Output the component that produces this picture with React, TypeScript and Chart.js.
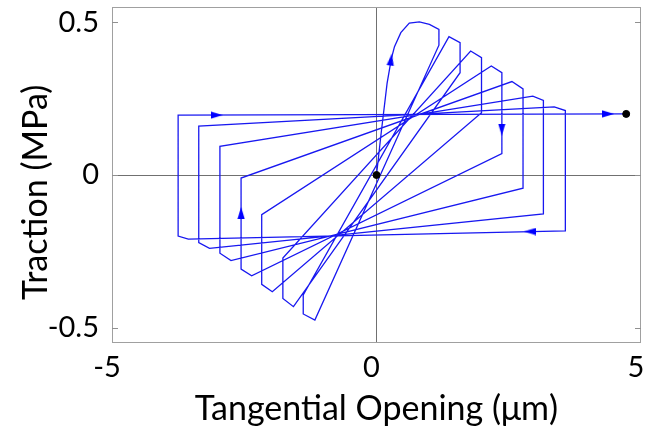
import React, { useEffect, useRef } from "react";
import { Chart, registerables } from "chart.js";
Chart.register(...registerables);

// Axis ticks
const xTicks = [-5, 0, 5];
const xTickLabels = ["-5", "0", "5"];
const yTicks = [-0.5, 0, 0.5];
const yTickLabels = ["-0.5", "0", "0.5"];

// Initial loading curve from origin to first peak
const initialX = [0, 0.09, 0.2, 0.28, 0.34, 0.46, 0.62, 0.81, 1.0, 1.18];
const initialY = [0, 0.14, 0.3, 0.38, 0.42, 0.466, 0.497, 0.501, 0.493, 0.477];

// Right-hand flags of each cycle
const rightCornerX = [1.37, 1.78, 2.17, 2.56, 2.955, 3.36];
const rightCornerY = [0.453, 0.406, 0.357, 0.306, 0.258, 0.223];
const rightEdgeX = [1.18, 1.58, 1.985, 2.37, 2.77, 3.155, 3.57];
const rightEdgeTopY = [0.477, 0.433, 0.384, 0.335, 0.282, 0.244, 0.211];
const rightEdgeBottomY = [0.425, 0.335, 0.204, 0.07, -0.043, -0.127, -0.183];

// Left-hand flags of each cycle
const leftCornerX = [-1.165, -1.57, -1.97, -2.36, -2.75, -3.157, -3.557];
const leftCornerY = [-0.475, -0.431, -0.382, -0.33, -0.28, -0.24, -0.21];
const leftEdgeX = [-1.385, -1.77, -2.17, -2.56, -2.96, -3.36, -3.75];
const leftEdgeBottomY = [-0.455, -0.404, -0.358, -0.308, -0.256, -0.221, -0.2];
const leftEdgeTopY = [-0.393, -0.272, -0.13, -0.01, 0.094, 0.16, 0.196];

// Final point
const endX = [4.72];
const endY = [0.2];

// Direction arrows
const arrowX = [0.275, 2.37, -2.56, -3.02, 4.38, 2.9];
const arrowY = [0.378, 0.148, -0.124, 0.196, 0.2, -0.185];
const arrowAngle = [8, 180, 0, 90, 90, 270];

// Black markers (start / end)
const markerX = [0, 4.72];
const markerY = [0, 0.2];

function buildPath() {
  const pts: { x: number; y: number }[] = [];
  initialX.forEach((x, i) => pts.push({ x, y: initialY[i] }));
  for (let i = 0; i < rightEdgeX.length; i++) {
    pts.push({ x: rightEdgeX[i], y: rightEdgeBottomY[i] });
    pts.push({ x: leftCornerX[i], y: leftCornerY[i] });
    pts.push({ x: leftEdgeX[i], y: leftEdgeBottomY[i] });
    pts.push({ x: leftEdgeX[i], y: leftEdgeTopY[i] });
    if (i < rightCornerX.length) {
      pts.push({ x: rightCornerX[i], y: rightCornerY[i] });
      pts.push({ x: rightEdgeX[i + 1], y: rightEdgeTopY[i + 1] });
    }
  }
  endX.forEach((x, i) => pts.push({ x, y: endY[i] }));
  return pts;
}

function makeArrow() {
  const c = document.createElement("canvas");
  c.width = 8;
  c.height = 12;
  const g = c.getContext("2d")!;
  g.fillStyle = "#0000ff";
  g.beginPath();
  g.moveTo(4, 0);
  g.lineTo(7.6, 12);
  g.lineTo(0.4, 12);
  g.closePath();
  g.fill();
  return c;
}

const FONT = "Lato, 'Liberation Sans', sans-serif";

export default function App() {
  const ref = useRef<HTMLCanvasElement>(null);
  useEffect(() => {
    const arrowImg = makeArrow();
    const framePlugin = {
      id: "frame",
      beforeDatasetsDraw(chart: any) {
        const { ctx, chartArea: a, scales } = chart;
        ctx.save();
        ctx.strokeStyle = "#a0a0a0";
        ctx.lineWidth = 1;
        ctx.strokeRect(a.left + 0.5, a.top + 0.5, a.right - a.left - 1, a.bottom - a.top - 1);
        ctx.strokeStyle = "#909090";
        yTicks.forEach((v) => {
          const y = Math.round(scales.y.getPixelForValue(v)) + 0.5;
          ctx.beginPath();
          ctx.moveTo(a.left, y);
          ctx.lineTo(a.left + 6, y);
          ctx.moveTo(a.right - 6, y);
          ctx.lineTo(a.right, y);
          ctx.stroke();
        });
        ctx.restore();
      },
    };
    const chart = new Chart(ref.current!, {
      type: "scatter",
      data: {
        datasets: [
          {
            label: "markers",
            data: markerX.map((x, i) => ({ x, y: markerY[i] })),
            pointRadius: 3.5,
            pointBackgroundColor: "#000",
            pointBorderColor: "#000",
            showLine: false,
            order: 0,
          },
          {
            label: "arrows",
            data: arrowX.map((x, i) => ({ x, y: arrowY[i] })),
            pointStyle: arrowImg as any,
            rotation: arrowAngle as any,
            showLine: false,
            order: 1,
          },
          {
            label: "path",
            data: buildPath(),
            showLine: true,
            borderColor: "#1818f0",
            borderWidth: 1.3,
            pointRadius: 0,
            tension: 0,
            fill: false,
            order: 2,
          },
        ],
      },
      options: {
        animation: false,
        responsive: false,
        maintainAspectRatio: false,
        layout: { padding: { top: 7, right: 1, left: 0, bottom: 0 } },
        plugins: { legend: { display: false }, tooltip: { enabled: false } },
        scales: {
          x: {
            type: "linear",
            min: -5,
            max: 5,
            afterBuildTicks: (s: any) => {
              s.ticks = xTicks.map((v) => ({ value: v }));
            },
            afterFit: (s: any) => {
              s.height = 86;
              s.paddingLeft = 0;
              s.paddingRight = 0;
              s.paddingTop = 0;
              s.paddingBottom = 0;
            },
            border: { display: false },
            grid: {
              drawTicks: false,
              color: (c: any) => (c.tick && c.tick.value === 0 ? "#707070" : "rgba(0,0,0,0)"),
              lineWidth: 1,
            },
            ticks: {
              padding: 7,
              labelOffset: -5,
              color: "#000",
              font: { family: FONT, size: 29 },
              maxRotation: 0,
              callback: (v: any) => xTickLabels[xTicks.indexOf(Number(v))] ?? "",
            },
            title: {
              display: true,
              text: "Tangential Opening (μm)",
              color: "#000",
              font: { family: FONT, size: 34, lineHeight: 1.2 },
              padding: { top: 0, bottom: 0 },
            },
          },
          y: {
            type: "linear",
            min: -0.55,
            max: 0.55,
            afterBuildTicks: (s: any) => {
              s.ticks = yTicks.map((v) => ({ value: v }));
            },
            afterFit: (s: any) => {
              s.width = 112;
              s.paddingLeft = 0;
              s.paddingRight = 0;
              s.paddingTop = 0;
              s.paddingBottom = 0;
            },
            border: { display: false },
            grid: {
              drawTicks: false,
              color: (c: any) => (c.tick && c.tick.value === 0 ? "#707070" : "rgba(0,0,0,0)"),
              lineWidth: 1,
            },
            ticks: {
              padding: 13,
              color: "#000",
              font: { family: FONT, size: 29 },
              callback: (v: any) => yTickLabels[yTicks.indexOf(Number(v))] ?? "",
            },
            title: {
              display: true,
              text: "Traction (MPa)    ",
              color: "#000",
              font: { family: FONT, size: 34, lineHeight: 1.2 },
              padding: { top: 16, bottom: 0 },
            },
          },
        },
      },
      plugins: [framePlugin],
    });
    return () => chart.destroy();
  }, []);
  return (
    <div style={{ position: "fixed", left: 0, top: 0, width: 646, height: 429, background: "#fff" }}>
      <canvas ref={ref} width={646} height={429} style={{ width: 646, height: 429, display: "block" }} />
    </div>
  );
}
